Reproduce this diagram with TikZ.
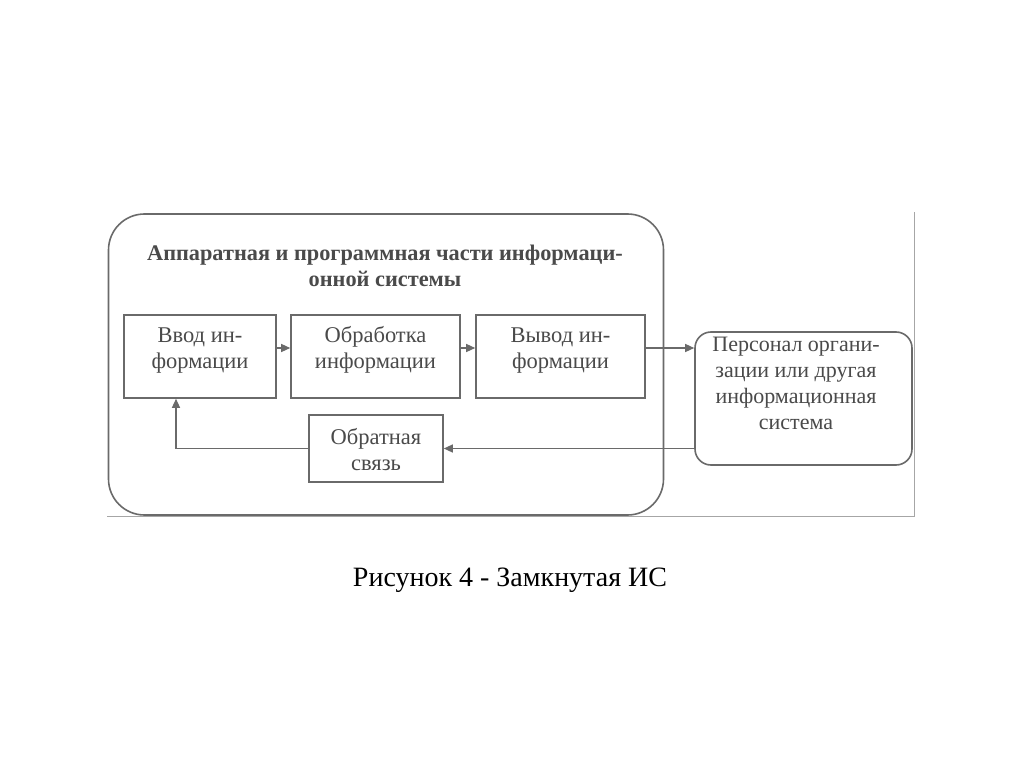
\documentclass[tikz,border=0pt]{standalone}
\usepackage{fontspec}
\setmainfont{Liberation Serif}
\usetikzlibrary{arrows.meta}
\definecolor{ln}{HTML}{6A6A6A}
\definecolor{tx}{HTML}{4A4A4A}
\begin{document}
\begin{tikzpicture}[x=1pt,y=-1pt,
  blk/.style={draw=ln,line width=1.6pt,inner sep=0pt},
  lbl/.style={text=tx,align=center,inner sep=0pt,font=\fontsize{22.5}{26}\selectfont},
  arr/.style={draw=ln,line width=1.3pt,-{Triangle[length=9pt,width=8pt]}}]
\useasboundingbox (0,0) rectangle (1024,767);
\fill[white] (0,0) rectangle (1024,767);
% scan edges
\coordinate (e1) at (107,516);
\coordinate (e2) at (914,516);
\coordinate (e3) at (914,212);
\draw[gray!70,line width=1pt] (e1) -- (e2) -- (e3);
% outer rounded frame
\node[draw=ln,line width=1.6pt,rounded corners=36pt,minimum width=555pt,minimum height=301pt,inner sep=0pt] (frame) at (386,364.5) {};
\node[text=tx,align=center,font=\fontsize{22.3}{26}\selectfont\bfseries] (title) at (385,266) {Аппаратная и программная части информаци-\\онной системы};
\node[blk,minimum width=152pt,minimum height=83pt] (in) at (200,356.5) {};
\node[lbl] (intext) at (200,350) {\vphantom{б}Ввод ин-\\формации};
\node[blk,minimum width=169pt,minimum height=83pt] (proc) at (375.5,356.5) {};
\node[lbl] (proctext) at (375.5,350) {Обработка\\информации};
\node[blk,minimum width=169pt,minimum height=83pt] (out) at (560.5,356.5) {};
\node[lbl] (outtext) at (560.5,350) {\vphantom{б}Вывод ин-\\формации};
\node[blk,minimum width=134pt,minimum height=67pt] (fb) at (376,448.5) {};
\node[lbl] (fbtext) at (376,450) {Обратная\\связь};
\node[blk,rounded corners=16pt,minimum width=217pt,minimum height=133pt] (pers) at (803.5,398.5) {};
\node[lbl,font=\fontsize{22}{26}\selectfont] (perstext) at (796,383) {Персонал органи-\\зации или другая\\информационная\\система};
\draw[arr] ([yshift=8.5pt]in.east) -- ([yshift=8.5pt]in.east -| proc.west);
\draw[arr] ([yshift=8.5pt]proc.east) -- ([yshift=8.5pt]proc.east -| out.west);
\draw[arr] ([yshift=8.5pt]out.east) -- ([yshift=8.5pt]out.east -| pers.west);
\draw[arr] (fb.east -| pers.west) -- (fb.east);
\draw[arr] (fb.west) -| ([xshift=-24pt]in.south);
\node[font=\fontsize{28}{32}\selectfont] (cap) at (510,580) {Рисунок 4 - Замкнутая ИС};
\end{tikzpicture}
\end{document}
